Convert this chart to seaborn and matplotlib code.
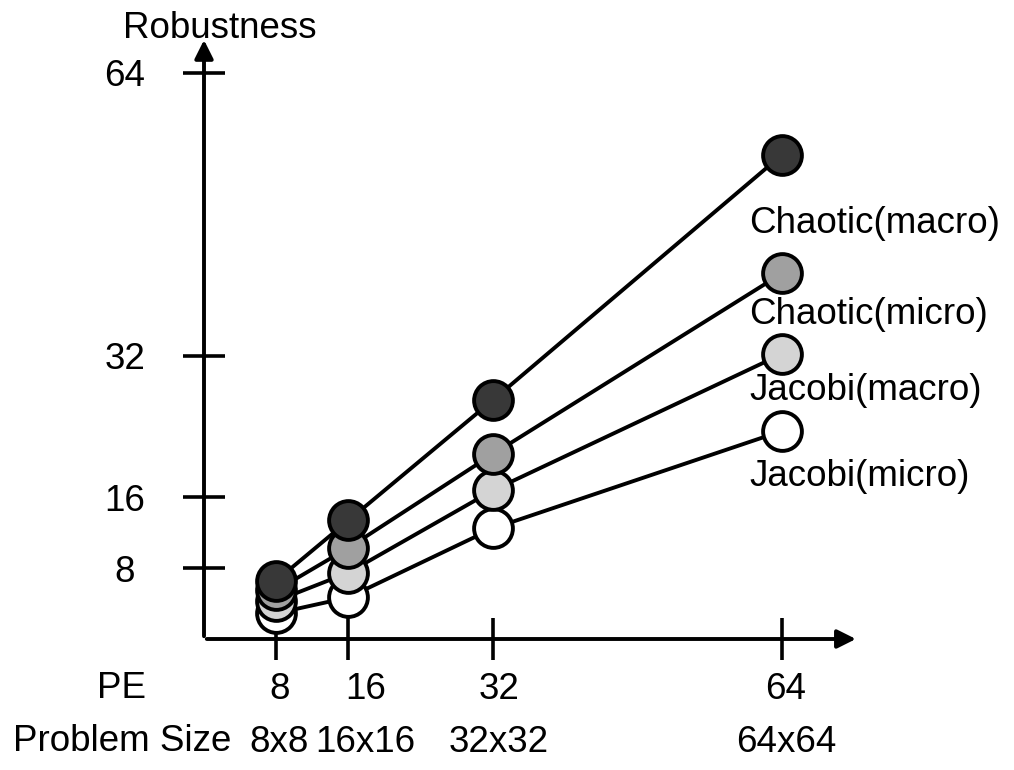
import pandas as pd
import matplotlib
matplotlib.use("Agg")
import matplotlib.pyplot as plt
import matplotlib.transforms as mtrans
import seaborn as sns

pe = [8, 16, 32, 64]
problem_size = ["8x8", "16x16", "32x32", "64x64"]
y_ticks = [8, 16, 32, 64]

chaotic_macro = [6.6, 13.4, 27.0, 54.7]
chaotic_micro = [5.5, 10.3, 20.9, 41.3]
jacobi_macro = [4.3, 7.5, 16.8, 32.2]
jacobi_micro = [2.9, 4.7, 12.5, 23.5]

names = ["Jacobi(micro)", "Jacobi(macro)", "Chaotic(micro)", "Chaotic(macro)"]
fills = ["#ffffff", "#d4d4d4", "#a0a0a0", "#383838"]
label_y = [18.4, 28.1, 36.7, 46.9]

df = pd.DataFrame({
    "pe": pe * 4,
    "rob": jacobi_micro + jacobi_macro + chaotic_micro + chaotic_macro,
    "method": [n for n in names for _ in pe],
})

sns.set_theme(style="white")
plt.rcParams["font.family"] = ["Liberation Sans", "DejaVu Sans"]
plt.rcParams["text.color"] = "black"
plt.rcParams["xtick.color"] = "black"
plt.rcParams["ytick.color"] = "black"

fs = 26.5
fig = plt.figure(figsize=(10.14, 7.7), dpi=100)
ax = fig.add_axes([204 / 1014, 131 / 770, 72.5 * 9.03 / 1014, 68 * 8.85 / 770])

# lines first, circles on top (dark one drawn last)
for n in names:
    sub = df[df["method"] == n]
    sns.lineplot(data=sub, x="pe", y="rob", color="black", linewidth=2.8,
                 ax=ax, zorder=2, legend=False)
for n, c in zip(names, fills):
    sub = df[df["method"] == n]
    sns.scatterplot(data=sub, x="pe", y="rob", color=c, edgecolor="black",
                    linewidth=2.8, s=780, ax=ax, zorder=3, legend=False,
                    clip_on=False)

for n, yy in zip(names, label_y):
    ax.text(60.4, yy, n, fontsize=fs, ha="left", va="center")

ax.set_xlim(0, 72.5)
ax.set_ylim(0, 68)
for s in ax.spines.values():
    s.set_visible(False)

# axes with arrow heads
ax.annotate("", xy=(72.5, 0), xytext=(0, 0), annotation_clip=False,
            arrowprops=dict(arrowstyle="-|>", lw=2.8, color="black", mutation_scale=28))
ax.annotate("", xy=(0, 68), xytext=(0, 0), annotation_clip=False,
            arrowprops=dict(arrowstyle="-|>", lw=2.8, color="black", mutation_scale=28))

ax.set_xticks(pe)
ax.set_xticklabels([f"{p}\n{s}" for p, s in zip(pe, problem_size)],
                   fontsize=fs, linespacing=1.66)
ax.set_yticks(y_ticks)
ax.set_yticklabels([str(v) for v in y_ticks], fontsize=fs, ha="center")
ax.tick_params(axis="both", direction="inout", length=30, width=2.6,
               color="black", bottom=True, left=True)
ax.tick_params(axis="x", pad=9)
ax.tick_params(axis="y", pad=42)

# the labels sit a little right of their ticks, 8x8 and 16x16 nearly touch
shift_px = [3, 17, 6, 4]
for lab, dx in zip(ax.get_xticklabels(), shift_px):
    lab.set_transform(lab.get_transform() +
                      mtrans.ScaledTranslation(dx / 100, 0, fig.dpi_scale_trans))

ax.text(-9.1, -3.6, "PE\nProblem Size", fontsize=fs, ha="center", va="top",
        linespacing=1.66, clip_on=False)
ax.text(1.8, 69.0, "Robustness", fontsize=fs, ha="center", va="center",
        clip_on=False)
ax.set_xlabel("")
ax.set_ylabel("")

fig.savefig("out.png", dpi=100)
